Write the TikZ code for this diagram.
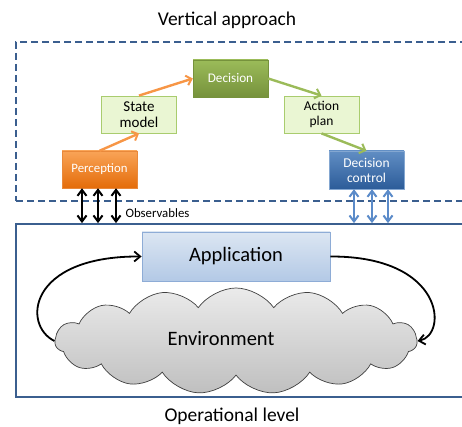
\documentclass[tikz,border=0pt]{standalone}
\usepackage{fontspec}
\setmainfont{Carlito}
\usetikzlibrary{arrows.meta,shapes.symbols,calc}
\definecolor{frameblue}{HTML}{3B5F8F}
\definecolor{orangeA}{HTML}{F9A457}
\definecolor{orangeB}{HTML}{E46C0A}
\definecolor{greenA}{HTML}{9BBB59}
\definecolor{greenB}{HTML}{76923C}
\definecolor{blueA}{HTML}{4F81BD}
\definecolor{blueB}{HTML}{2C5C99}
\definecolor{paleg}{HTML}{EAF6D3}
\definecolor{palegB}{HTML}{A9CC6E}
\definecolor{appA}{HTML}{DCE6F2}
\definecolor{appB}{HTML}{B3C9E6}
\definecolor{appD}{HTML}{8EACD6}
\definecolor{arrblue}{HTML}{5B8BC9}
\definecolor{arrorange}{HTML}{F79646}
\definecolor{arrgreen}{HTML}{9BBB59}
\tikzset{
  box/.style={rectangle, minimum width=75pt, minimum height=37pt, align=center, inner sep=1pt, font=\fontsize{12.8}{14}\selectfont},
  darkbox/.style={box, text=white},
  lightbox/.style={box, fill=paleg, draw=palegB, line width=0.8pt, font=\fontsize{15}{16}\selectfont},
  flow/.style={line width=2.4pt, -{Straight Barb[length=5pt,width=10pt,line width=2pt]}},
  dbl/.style={line width=2pt, {Straight Barb[length=6pt,width=9pt]}-{Straight Barb[length=6pt,width=9pt]}},
  loop/.style={line width=1.8pt, -{Straight Barb[length=6pt,width=10pt]}},
  title/.style={font=\fontsize{19.5}{21}\selectfont}
}
\begin{document}
\begin{tikzpicture}[x=1pt,y=-1pt]
\useasboundingbox (0,0) rectangle (462,427);
\clip (0,0) rectangle (462,427);
\fill[white] (0,0) rectangle (462,427);
% frames
\node[draw=frameblue, dashed, dash pattern=on 7pt off 4pt, line width=1.8pt, minimum width=454pt, minimum height=159pt, inner sep=0pt] (vbox) at (243,121.5) {};
\node[draw=frameblue, line width=1.8pt, minimum width=454pt, minimum height=173pt, inner sep=0pt] (opbox) at (243,310.5) {};
\node[title] (vt) at (227,20) {Vertical approach};
\node[title] (ot) at (232,416) {Operational level};
% vertical approach nodes
\node[darkbox, top color=orangeA, bottom color=orangeB, draw=orangeB!80!white] (perc) at (99.5,169.5) {Perception};
\node[lightbox] (sm) at (139,114.5) {State\\model};
\node[darkbox, top color=greenA, bottom color=greenB, draw=greenB, font=\fontsize{13.2}{14}\selectfont] (dec) at (230.5,78.5) {Decision};
\node[lightbox, font=\fontsize{13.5}{15}\selectfont] (ap) at (321.5,114.5) {Action\\plan};
\node[darkbox, top color=blueA!90!white, bottom color=blueB, draw=blueA!70!white, minimum height=38pt, font=\fontsize{13.5}{15}\selectfont] (dc) at (366.5,170) {Decision\\control};
\draw[flow, arrorange] (perc.north) -- (sm.south);
\draw[flow, arrorange] (sm.north) -- (dec.west);
\draw[flow, arrgreen] (dec.east) -- (ap.north);
\draw[flow, arrgreen] (ap.south) -- (dc.north);
% observables
\foreach \dx in {-17.5,-1.5,16.5}{
  \draw[dbl, black] ([xshift=\dx pt]perc.south) -- ([xshift=\dx pt]perc.south |- opbox.north);
}
\foreach \dx in {-12.5,5.5,21.5}{
  \draw[dbl, arrblue] ([xshift=\dx pt]dc.south) -- ([xshift=\dx pt]dc.south |- opbox.north);
}
\node[font=\fontsize{12.8}{14}\selectfont, anchor=west] (obs) at (122,213) {Observables};
% operational level
\node[cloud, cloud puffs=15, cloud puff arc=110, aspect=3.4, minimum width=362pt, minimum height=106pt, inner sep=0pt, draw=black!75, line width=0.7pt, top color=black!8, bottom color=black!25] (env) at (236,341) {};
\node[font=\fontsize{20.5}{22}\selectfont] (envt) at (221,339) {Environment};
\node[rectangle, minimum width=188pt, minimum height=49pt, top color=appA, bottom color=appB, draw=appD, line width=0.8pt, font=\fontsize{20.5}{22}\selectfont] (app) at (236,256.5) {Application};
\draw[loop] (env.west) .. controls (22,325) and (28,256) .. (app.west);
\draw[loop] (app.east) .. controls (445,256) and (448,335) .. (env.east);
\end{tikzpicture}
\end{document}
